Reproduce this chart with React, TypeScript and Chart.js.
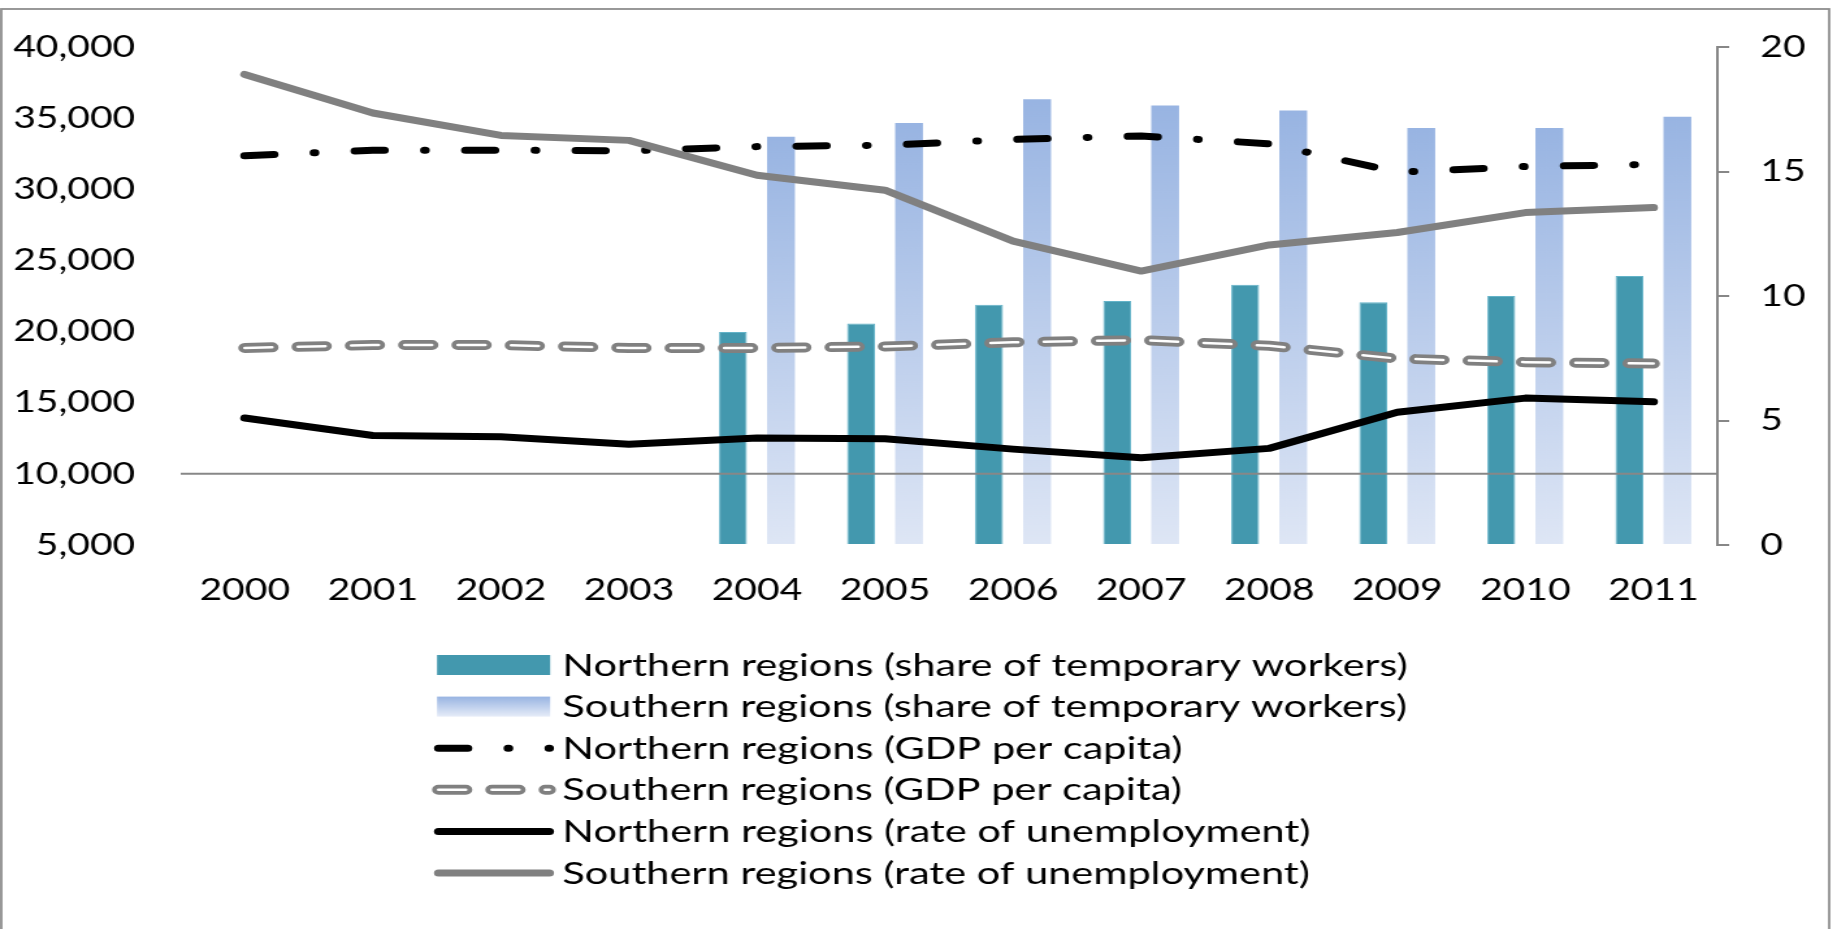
import { useEffect, useRef } from 'react';
import { Chart, registerables } from 'chart.js';

Chart.register(...registerables);

// ---- data ----
const years = ['2000', '2001', '2002', '2003', '2004', '2005', '2006', '2007', '2008', '2009', '2010', '2011'];

// share of temporary workers (%), right axis
const northTempShare = [null, null, null, null, 8.55, 8.9, 9.65, 9.8, 10.45, 9.75, 10.0, 10.8];
const southTempShare = [null, null, null, null, 16.4, 16.95, 17.9, 17.65, 17.45, 16.75, 16.75, 17.2];

// GDP per capita, left axis
const northGdp = [32350, 32750, 32750, 32700, 33000, 33100, 33500, 33750, 33200, 31200, 31600, 31750];
const southGdp = [18850, 19050, 19050, 18850, 18850, 18950, 19250, 19400, 19000, 18100, 17850, 17750];

// rate of unemployment (%), right axis
const northUnemp = [5.1, 4.4, 4.35, 4.05, 4.3, 4.27, 3.85, 3.5, 3.88, 5.33, 5.9, 5.75];
const southUnemp = [18.9, 17.35, 16.45, 16.25, 14.85, 14.25, 12.2, 11.0, 12.05, 12.55, 13.35, 13.55];

// axis ranges and ticks
const leftTicks = { min: 5000, max: 40000, step: 5000 };
const rightTicks = { min: 0, max: 20, step: 5 };
const axisLineValue = 10000;

const seriesLabels = [
  'Northern regions (share of temporary workers)',
  'Southern regions (share of temporary workers)',
  'Northern regions (GDP per capita)',
  'Southern regions (GDP per capita)',
  'Northern regions (rate of unemployment)',
  'Southern regions (rate of unemployment)',
];

// ---- drawing setup ----
// The canvas is drawn at a narrower internal width and shown stretched to 1837px.
const CANVAS_W = 1413;
const CANVAS_H = 929;
const SHOWN_W = 1837;
const FONT = 'Lato, Carlito, "Liberation Sans", sans-serif';
const FONT_SIZE = 30;
const LEGEND_TEXT_STRETCH = 1.065;

const TEAL = '#4398AE';
const GRAY = '#808080';
const AXIS_GRAY = '#878787';
const BLUE_TOP = '#98B4E2';
const BLUE_BOTTOM = '#DEE6F5';

const NORTH_GDP_DASH = [22.5, 31, 0.5, 31];
const SOUTH_GDP_DASH = [21, 20];

function strokePolyline(ctx: CanvasRenderingContext2D, pts: { x: number; y: number }[]) {
  ctx.beginPath();
  pts.forEach((p, i) => (i === 0 ? ctx.moveTo(p.x, p.y) : ctx.lineTo(p.x, p.y)));
  ctx.stroke();
}

// white core of the double-line dashed series
const doubleLinePlugin = {
  id: 'doubleLine',
  afterDatasetDraw(chart: any, args: any) {
    const ds = chart.data.datasets[args.index];
    if (!ds.doubleLine) return;
    const meta = chart.getDatasetMeta(args.index);
    const pts = meta.data.map((p: any) => ({ x: p.x, y: p.y }));
    const ctx = chart.ctx;
    ctx.save();
    ctx.setLineDash(ds.borderDash);
    ctx.lineDashOffset = 0;
    ctx.lineCap = 'round';
    ctx.lineJoin = 'round';
    ctx.lineWidth = 2.5;
    ctx.strokeStyle = '#ffffff';
    strokePolyline(ctx, pts);
    ctx.restore();
  },
};

// category axis line crossing the left axis at 10,000, drawn over the bars
const crossLinePlugin = {
  id: 'crossLine',
  afterDatasetsDraw(chart: any) {
    const ctx = chart.ctx;
    const y = chart.scales.y.getPixelForValue(axisLineValue);
    const { left, right } = chart.chartArea;
    ctx.save();
    ctx.strokeStyle = AXIS_GRAY;
    ctx.lineWidth = 2;
    ctx.beginPath();
    ctx.moveTo(left, y);
    ctx.lineTo(right, y);
    ctx.stroke();
    ctx.restore();
  },
};

// outer frame
const framePlugin = {
  id: 'frame',
  afterDraw(chart: any) {
    const ctx = chart.ctx;
    ctx.save();
    ctx.strokeStyle = '#8E8E8E';
    ctx.lineWidth = 1.8;
    ctx.strokeRect(1, 9, 1406, CANVAS_H + 20);
    ctx.restore();
  },
};

// legend stacked below the plot
const legendPlugin = {
  id: 'stackLegend',
  afterDraw(chart: any) {
    const ctx: CanvasRenderingContext2D = chart.ctx;
    const sx0 = 337.3;
    const sx1 = 422.6;
    const textX = 432.5;
    const y0 = 665;
    const dy = 41.6;
    ctx.save();
    ctx.font = `${FONT_SIZE}px ${FONT}`;
    ctx.textBaseline = 'middle';
    ctx.textAlign = 'left';
    chart.data.datasets.forEach((ds: any, i: number) => {
      const y = y0 + i * dy;
      if (ds.type === 'bar') {
        if (ds.gradientFill) {
          const g = ctx.createLinearGradient(0, y - 10, 0, y + 10);
          g.addColorStop(0, BLUE_TOP);
          g.addColorStop(1, '#E6ECF8');
          ctx.fillStyle = g;
        } else {
          ctx.fillStyle = ds.backgroundColor;
        }
        ctx.fillRect(336.2, y - 10, 87, 20);
      } else {
        ctx.setLineDash(ds.borderDash || []);
        ctx.lineDashOffset = 0;
        ctx.lineCap = 'round';
        ctx.lineJoin = 'round';
        ctx.lineWidth = ds.borderWidth;
        ctx.strokeStyle = ds.borderColor;
        strokePolyline(ctx, [{ x: sx0, y }, { x: sx1, y }]);
        if (ds.doubleLine) {
          ctx.lineWidth = 2.5;
          ctx.strokeStyle = '#ffffff';
          strokePolyline(ctx, [{ x: sx0, y }, { x: sx1, y }]);
        }
        ctx.setLineDash([]);
      }
      ctx.save();
      ctx.translate(textX, y + 1);
      ctx.scale(LEGEND_TEXT_STRETCH, 1);
      ctx.fillStyle = '#000000';
      ctx.fillText(ds.label, 0, 0);
      ctx.restore();
    });
    ctx.restore();
  },
};

function blueGradient(context: any) {
  const chart = context.chart;
  const v = context.raw;
  if (!chart.chartArea || v == null || typeof v !== 'number') return BLUE_TOP;
  const scale = chart.scales.y1;
  const top = scale.getPixelForValue(v);
  const bottom = scale.getPixelForValue(rightTicks.min);
  const g = chart.ctx.createLinearGradient(0, top, 0, bottom);
  g.addColorStop(0, BLUE_TOP);
  g.addColorStop(1, BLUE_BOTTOM);
  return g;
}

export default function App() {
  const canvasRef = useRef<HTMLCanvasElement | null>(null);

  useEffect(() => {
    const canvas = canvasRef.current;
    if (!canvas) return;
    const tickFont = { family: FONT, size: FONT_SIZE };

    const chart = new Chart(canvas, {
      type: 'bar',
      data: {
        labels: years,
        datasets: [
          {
            type: 'bar',
            label: seriesLabels[0],
            data: northTempShare,
            yAxisID: 'y1',
            backgroundColor: TEAL,
            borderColor: '#63B3C8',
            borderWidth: 1,
            categoryPercentage: 0.75,
            barPercentage: 0.58,
            order: 10,
          },
          {
            type: 'bar',
            label: seriesLabels[1],
            data: southTempShare,
            yAxisID: 'y1',
            backgroundColor: blueGradient,
            gradientFill: true,
            borderWidth: 0,
            categoryPercentage: 0.75,
            barPercentage: 0.58,
            order: 10,
          },
          {
            type: 'line',
            label: seriesLabels[2],
            data: northGdp,
            yAxisID: 'y',
            borderColor: '#000000',
            borderWidth: 7,
            borderDash: NORTH_GDP_DASH,
            borderCapStyle: 'round',
            borderJoinStyle: 'round',
            pointRadius: 0,
            tension: 0,
            order: 3,
          },
          {
            type: 'line',
            label: seriesLabels[3],
            data: southGdp,
            yAxisID: 'y',
            borderColor: GRAY,
            borderWidth: 10,
            borderDash: SOUTH_GDP_DASH,
            borderCapStyle: 'round',
            borderJoinStyle: 'round',
            doubleLine: true,
            pointRadius: 0,
            tension: 0,
            order: 4,
          },
          {
            type: 'line',
            label: seriesLabels[4],
            data: northUnemp,
            yAxisID: 'y1',
            borderColor: '#000000',
            borderWidth: 7,
            borderCapStyle: 'round',
            borderJoinStyle: 'round',
            pointRadius: 0,
            tension: 0,
            order: 1,
          },
          {
            type: 'line',
            label: seriesLabels[5],
            data: southUnemp,
            yAxisID: 'y1',
            borderColor: GRAY,
            borderWidth: 7,
            borderCapStyle: 'round',
            borderJoinStyle: 'round',
            pointRadius: 0,
            tension: 0,
            order: 2,
          },
        ] as any,
      },
      options: {
        responsive: false,
        animation: false,
        devicePixelRatio: 1,
        events: [],
        layout: { padding: { top: 47, left: 0, right: 0, bottom: 0 } },
        plugins: { legend: { display: false }, tooltip: { enabled: false } },
        scales: {
          x: {
            grid: { display: false, drawTicks: false },
            border: { display: false },
            ticks: { font: tickFont, color: '#000000', padding: 27, maxRotation: 0, autoSkip: false },
            afterFit: (s: any) => {
              s.height = CANVAS_H - 545;
              s.paddingLeft = 0;
              s.paddingRight = 0;
            },
          },
          y: {
            position: 'left',
            min: leftTicks.min,
            max: leftTicks.max,
            grid: { display: false, drawTicks: false },
            border: { display: false },
            ticks: {
              stepSize: leftTicks.step,
              font: tickFont,
              color: '#000000',
              padding: 35,
              callback: (v: any) => Number(v).toLocaleString('en-US'),
            },
            afterFit: (s: any) => {
              s.width = 139;
              s.paddingTop = 0;
              s.paddingBottom = 0;
            },
          },
          y1: {
            position: 'right',
            min: rightTicks.min,
            max: rightTicks.max,
            grid: { drawOnChartArea: false, drawTicks: true, tickLength: 9, color: AXIS_GRAY, lineWidth: 2 },
            border: { display: true, color: AXIS_GRAY, width: 2 },
            ticks: { stepSize: rightTicks.step, font: tickFont, color: '#000000', padding: 24 },
            afterFit: (s: any) => {
              s.width = CANVAS_W - 1321;
              s.paddingTop = 0;
              s.paddingBottom = 0;
            },
          },
        },
      } as any,
      plugins: [doubleLinePlugin, crossLinePlugin, framePlugin, legendPlugin],
    });

    return () => chart.destroy();
  }, []);

  return (
    <div style={{ position: 'fixed', left: 0, top: 0, width: SHOWN_W, height: CANVAS_H, background: '#ffffff' }}>
      <canvas
        ref={canvasRef}
        width={CANVAS_W}
        height={CANVAS_H}
        style={{ display: 'block', width: `${SHOWN_W}px`, height: `${CANVAS_H}px` }}
      />
    </div>
  );
}
